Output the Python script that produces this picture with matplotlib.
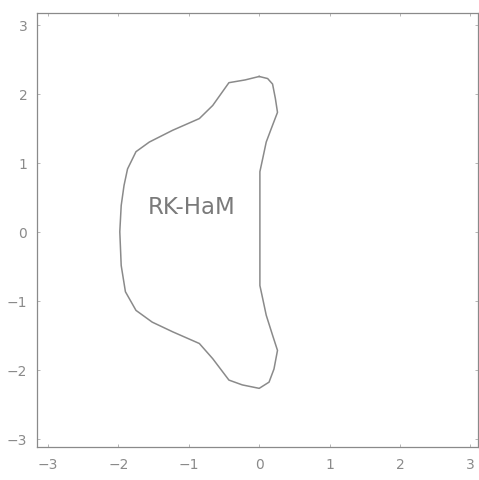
import matplotlib.pyplot as plt
import numpy as np

# stability region boundary (clockwise from the top)
bx = [0.0, -0.20, -0.43, -0.66, -0.85, -1.23, -1.56, -1.75, -1.87, -1.92, -1.96, -1.98,
      -1.96, -1.90, -1.75, -1.52, -1.23, -0.85, -0.66, -0.43, -0.24, 0.0, 0.14, 0.21,
      0.26, 0.19, 0.10, 0.05, 0.01, 0.01, 0.01, 0.05, 0.10, 0.17, 0.26, 0.23, 0.19, 0.12, 0.0]
by = [2.25, 2.20, 2.16, 1.83, 1.64, 1.47, 1.30, 1.16, 0.91, 0.67, 0.38, 0.0,
      -0.49, -0.87, -1.14, -1.31, -1.45, -1.62, -1.84, -2.15, -2.22, -2.27, -2.18, -1.99,
      -1.72, -1.50, -1.21, -0.97, -0.78, 0.0, 0.87, 1.06, 1.30, 1.49, 1.73, 1.93, 2.14, 2.22, 2.25]

ticks = [-3, -2, -1, 0, 1, 2, 3]
label = 'RK-HaM'

fig = plt.figure(figsize=(4.79, 4.81), dpi=100)
ax = fig.add_axes([37/479, 1-448/481, 441/479, 434/481])

ax.plot(bx, by, color='#8a8a8a', linewidth=1.1)
ax.text(-0.96, 0.37, label, color='#7a7a7a', fontsize=16.5, ha='center', va='center')

ax.set_xlim(-3.156, 3.108)
ax.set_ylim(-3.12, 3.17)
ax.set_xticks(ticks)
ax.set_yticks(ticks)
ax.set_xticklabels(['\u22123', '\u22122', '\u22121', '0', '1', '2', '3'])
ax.set_yticklabels(['\u22123', '\u22122', '\u22121', '0', '1', '2', '3'])
ax.tick_params(direction='in', length=2, width=0.6, colors='#aaaaaa',
               labelcolor='#8a8a8a', labelsize=10, pad=7, right=True, top=True)
for s in ax.spines.values():
    s.set_color('#8a8a8a')
    s.set_linewidth(0.9)

plt.savefig('out.png', dpi=100)
